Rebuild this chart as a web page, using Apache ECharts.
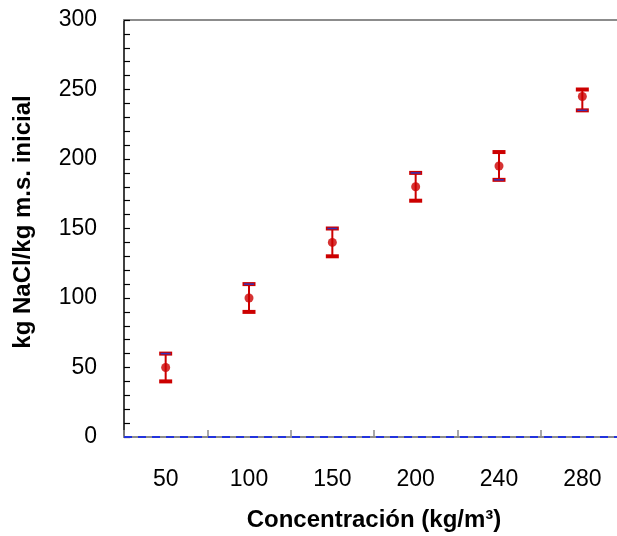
<!DOCTYPE html>
<html>
<head>
<meta charset="utf-8">
<script src="https://cdn.jsdelivr.net/npm/echarts@6/dist/echarts.min.js"></script>
<style>
html,body{margin:0;padding:0;background:#fff;}
#c{width:617px;height:536px;}
</style>
</head>
<body>
<div id="c"></div>
<script>
const categories = ['50', '100', '150', '200', '240', '280'];
const means = [50, 100, 140, 180, 195, 245];
const lows = [40, 90, 130, 170, 185, 235];
const highs = [60, 110, 150, 190, 205, 250];
const blueMarks = [60, 110, 150, 190, 185, 235];
const yTicks = [0, 50, 100, 150, 200, 250, 300];

const chart = echarts.init(document.getElementById('c'), null, {renderer: 'canvas'});
const FONT = '"Liberation Sans", Arial, sans-serif';

const errData = categories.map((c, i) => [i, lows[i], highs[i]]);
const blueData = categories.map((c, i) => [i, blueMarks[i]]);

chart.setOption({
  animation: false,
  backgroundColor: '#fff',
  grid: {left: 124, top: 20, width: 500, bottom: 99, containLabel: false, outerBoundsMode: 'none'},
  xAxis: [{
    type: 'category',
    data: categories,
    boundaryGap: true,
    axisLine: {show: true, lineStyle: {color: '#8c8c8c', width: 2}},
    axisTick: {show: true, inside: true, length: 7, alignWithLabel: false, lineStyle: {color: '#8c8c8c', width: 1.5}},
    axisLabel: {fontFamily: FONT, fontSize: 23, color: '#000', margin: 31},
    splitLine: {show: false}
  }, {
    type: 'category',
    data: categories,
    position: 'top',
    axisLine: {show: true, lineStyle: {color: '#8c8c8c', width: 2}},
    axisTick: {show: false},
    axisLabel: {show: false},
    splitLine: {show: false}
  }],
  yAxis: {
    type: 'value',
    min: 0, max: 300, interval: 50,
    axisLine: {show: true, lineStyle: {color: '#000', width: 1.5}},
    axisTick: {show: true, inside: true, length: 6, lineStyle: {color: '#000', width: 1.2}},
    minorTick: {show: true, splitNumber: 5, length: 6, lineStyle: {color: '#000', width: 1.2}},
    axisLabel: {fontFamily: FONT, fontSize: 23, color: '#000', margin: 27,
      formatter: v => yTicks.indexOf(v) >= 0 ? String(v) : ''},
    splitLine: {show: false}
  },
  graphic: [{
    type: 'text',
    x: 374, y: 520,
    style: {text: 'Concentración (kg/m³)', font: 'bold 24px ' + FONT, fill: '#000', align: 'center', verticalAlign: 'middle'}
  }, {
    type: 'text',
    x: 23, y: 222,
    rotation: Math.PI / 2,
    style: {text: 'kg NaCl/kg m.s. inicial', font: 'bold 24px ' + FONT, fill: '#000', align: 'center', verticalAlign: 'middle'}
  }],
  series: [{
    type: 'custom',
    data: errData,
    z: 3,
    renderItem: function (params, api) {
      const x = api.coord([api.value(0), 0])[0];
      const lo = api.coord([api.value(0), api.value(1)])[1];
      const hi = api.coord([api.value(0), api.value(2)])[1];
      const hw = 6.5;
      return {
        type: 'group',
        children: [
          {type: 'line', shape: {x1: x, y1: lo, x2: x, y2: hi}, style: {stroke: '#cc0000', lineWidth: 2}},
          {type: 'line', shape: {x1: x - hw, y1: lo, x2: x + hw, y2: lo}, style: {stroke: '#cc0000', lineWidth: 4}},
          {type: 'line', shape: {x1: x - hw, y1: hi, x2: x + hw, y2: hi}, style: {stroke: '#cc0000', lineWidth: 4}}
        ]
      };
    }
  }, {
    type: 'custom',
    data: blueData,
    z: 4,
    renderItem: function (params, api) {
      const p = api.coord([api.value(0), api.value(1)]);
      return {type: 'line', shape: {x1: p[0] - 5, y1: p[1], x2: p[0] + 5, y2: p[1]}, style: {stroke: '#3333bb', lineWidth: 1.5}};
    }
  }, {
    type: 'scatter',
    data: means,
    symbol: 'circle',
    symbolSize: 9,
    z: 5,
    itemStyle: {color: '#cc0000'},
    markLine: {
      silent: true,
      symbol: 'none',
      label: {show: false},
      lineStyle: {color: '#2233dd', width: 2, type: [8, 6]},
      data: [{yAxis: 0}]
    }
  }]
});
</script>
</body>
</html>
